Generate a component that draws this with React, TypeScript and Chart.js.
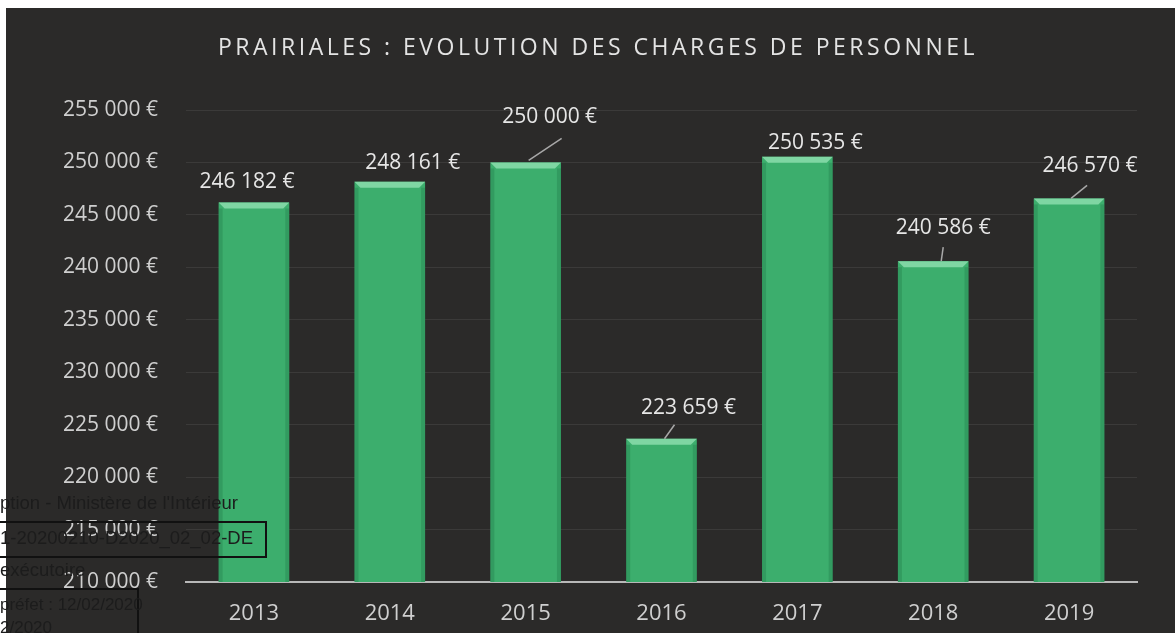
import React, { useEffect, useRef } from 'react';
import { Chart, registerables } from 'chart.js';

Chart.register(...registerables);

const categories: string[] = ['2013', '2014', '2015', '2016', '2017', '2018', '2019'];
const charges: number[] = [246182, 248161, 250000, 223659, 250535, 240586, 246570];
const yTickValues: number[] = [210000, 215000, 220000, 225000, 230000, 235000, 240000, 245000, 250000, 255000];
const chartTitle = 'PRAIRIALES : EVOLUTION DES CHARGES DE PERSONNEL';

const stampLine1 = "ption - Ministère de l'Intérieur";
const stampLine2 = '1-20200210-D2020_02_02-DE';
const stampLine3 = 'exécutoire';
const stampLine4 = 'préfet : 12/02/2020';
const stampLine5 = '2/2020';

const fmt = (n: number) => String(n).replace(/\B(?=(\d{3})+(?!\d))/g, ' ') + ' €';

// label offsets relative to bar top centre, and leader line segments
const labelOffsets: [number, number][] = [[-7, -20], [23, -19], [24, -45], [27, -31], [18, -14], [10, -33], [21, -32]];
const leaders: ([number, number, number, number] | null)[] = [
  null, null, [3, -2, 36, -24], [3, 0, 13, -14], null, [8, 0, 10, -14], [2, 0, 18, -13],
];

const FONT = '"Open Sans", "DejaVu Sans", sans-serif';

export default function App() {
  const ref = useRef<HTMLCanvasElement | null>(null);

  useEffect(() => {
    document.body.style.margin = '0';
    const canvas = ref.current;
    if (!canvas) return;

    const bgPlugin = {
      id: 'bgPlugin',
      beforeDraw(chart: any) {
        const ctx = chart.ctx;
        ctx.save();
        ctx.fillStyle = '#ffffff';
        ctx.fillRect(0, 0, chart.width, chart.height);
        ctx.fillStyle = '#2b2a29';
        ctx.fillRect(6, 8, chart.width - 6, chart.height - 8);
        ctx.restore();
      },
    };

    const titlePlugin = {
      id: 'titlePlugin',
      afterDraw(chart: any) {
        const ctx = chart.ctx;
        ctx.save();
        ctx.font = `23px ${FONT}`;
        (ctx as any).letterSpacing = '3.5px';
        ctx.fillStyle = '#e4e4e4';
        ctx.textAlign = 'center';
        ctx.textBaseline = 'middle';
        ctx.fillText(chartTitle, 598, 48);
        ctx.restore();
      },
    };

    const decorPlugin = {
      id: 'decorPlugin',
      afterDatasetsDraw(chart: any) {
        const ctx = chart.ctx;
        const meta = chart.getDatasetMeta(0);
        const bottom = chart.chartArea.bottom;
        ctx.save();
        meta.data.forEach((bar: any, i: number) => {
          const half = bar.width / 2;
          const l = bar.x - half;
          const r = bar.x + half;
          const t = bar.y;
          const b = Math.min(bar.base, bottom);
          // top bevel
          ctx.fillStyle = '#7fd6a3';
          ctx.beginPath();
          ctx.moveTo(l, t);
          ctx.lineTo(r, t);
          ctx.lineTo(r - 6, t + 6);
          ctx.lineTo(l + 6, t + 6);
          ctx.closePath();
          ctx.fill();
          // side shading
          ctx.fillStyle = 'rgba(20,90,50,0.22)';
          ctx.fillRect(l, t + 6, 4, b - t - 6);
          ctx.fillRect(r - 4, t + 6, 4, b - t - 6);
          // leader
          const ld = leaders[i];
          if (ld) {
            ctx.strokeStyle = '#a8a8a8';
            ctx.lineWidth = 1.5;
            ctx.beginPath();
            ctx.moveTo(bar.x + ld[0], t + ld[1]);
            ctx.lineTo(bar.x + ld[2], t + ld[3]);
            ctx.stroke();
          }
          // label
          const off = labelOffsets[i];
          ctx.font = `21px ${FONT}`;
          ctx.fillStyle = '#e6e6e6';
          ctx.textAlign = 'center';
          ctx.textBaseline = 'middle';
          ctx.fillText(fmt(charges[i]), bar.x + off[0], t + off[1]);
        });
        ctx.restore();
      },
    };

    const chart = new Chart(canvas, {
      type: 'bar',
      data: {
        labels: categories,
        datasets: [
          {
            data: charges,
            backgroundColor: '#3cae6d',
            borderWidth: 0,
            barPercentage: 0.52,
            categoryPercentage: 1,
          },
        ],
      },
      options: {
        responsive: false,
        animation: false,
        devicePixelRatio: 1,
        layout: { padding: { left: 0, right: 38, top: 110, bottom: 0 } },
        plugins: {
          legend: { display: false },
          tooltip: { enabled: false },
          title: { display: false },
        },
        scales: {
          y: {
            min: 210000,
            max: 255000,
            afterFit: (s: any) => {
              s.width = 186;
            },
            afterBuildTicks: (s: any) => {
              s.ticks = yTickValues.map((v) => ({ value: v }));
            },
            ticks: {
              padding: 28,
              color: '#cfcfcf',
              font: { family: FONT, size: 21 },
              callback: (v: any) => fmt(Number(v)),
            },
            grid: { color: 'rgba(255,255,255,0.08)', drawTicks: false },
            border: { display: false },
          },
          x: {
            afterFit: (s: any) => {
              s.height = 51;
            },
            ticks: {
              padding: 19,
              color: '#cfcfcf',
              font: { family: FONT, size: 22 },
            },
            grid: { display: false, drawTicks: false },
            border: { color: '#b8b8b8', width: 2 },
          },
        },
      },
      plugins: [bgPlugin, titlePlugin, decorPlugin],
    });

    return () => chart.destroy();
  }, []);

  const stampText: React.CSSProperties = {
    position: 'absolute',
    left: 0,
    fontFamily: '"Liberation Sans", Arial, sans-serif',
    fontSize: 18.5,
    color: '#1c1c1c',
    whiteSpace: 'nowrap',
    lineHeight: '20px',
  };

  return (
    <div style={{ position: 'fixed', left: 0, top: 0, width: 1175, height: 633, overflow: 'hidden', background: '#fff' }}>
      <canvas ref={ref} width={1175} height={633} style={{ display: 'block' }} />
      <div style={{ ...stampText, top: 493 }}>{stampLine1}</div>
      <div style={{ position: 'absolute', left: -2, top: 521, width: 265, height: 33, border: '2px solid #111' }} />
      <div style={{ ...stampText, top: 528 }}>{stampLine2}</div>
      <div style={{ ...stampText, top: 560 }}>{stampLine3}</div>
      <div style={{ position: 'absolute', left: -2, top: 588, width: 137, height: 60, border: '2px solid #111' }} />
      <div style={{ ...stampText, top: 595, fontSize: 17 }}>{stampLine4}</div>
      <div style={{ ...stampText, top: 618, fontSize: 17 }}>{stampLine5}</div>
    </div>
  );
}
